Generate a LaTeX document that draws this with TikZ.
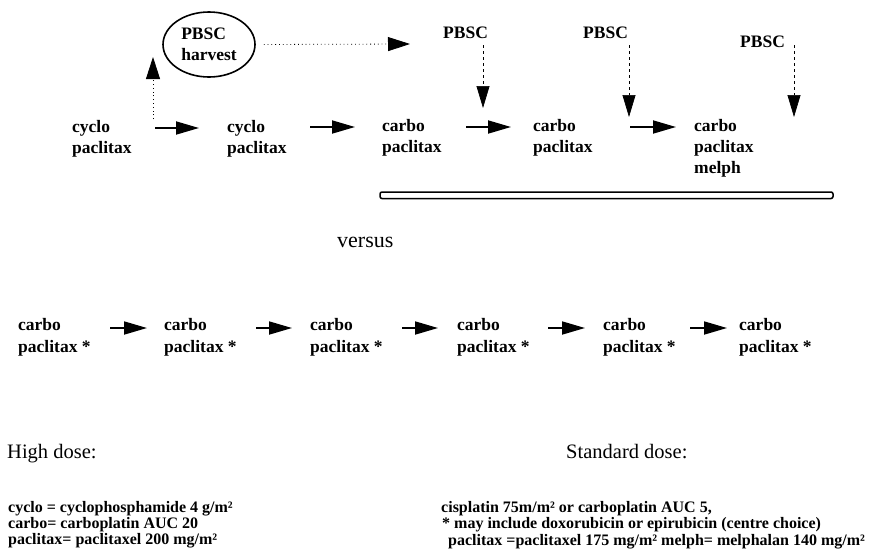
\documentclass[tikz,border=0pt]{standalone}
\usepackage{fontspec}
\setmainfont{Liberation Serif}
\usetikzlibrary{arrows.meta,shapes.geometric}
\begin{document}
\begin{tikzpicture}[x=1pt,y=-1pt,
  lbl/.style={font=\bfseries\fontsize{17.5}{21}\selectfont, align=left, inner sep=0pt, anchor=base west},
  lblb/.style={font=\bfseries\fontsize{17.5}{22}\selectfont, align=left, inner sep=0pt, anchor=base west},
  pbsc/.style={font=\bfseries\fontsize{17.5}{21}\selectfont, inner sep=0pt, anchor=base west},
  head/.style={font=\fontsize{20.5}{24}\selectfont, inner sep=0pt, anchor=base west},
  defn/.style={font=\bfseries\fontsize{16}{16}\selectfont, inner sep=0pt, anchor=base west},
  arr/.style={line width=1.8pt, -{Triangle[length=23pt,width=13pt]}},
  darr/.style={line width=0.7pt, dash pattern=on 3pt off 3pt, -{Triangle[length=22pt,width=13pt]}},
  oarr/.style={line width=0.8pt, dash pattern=on 0.8pt off 3pt, -{Triangle[length=22pt,width=14pt]}}]
\useasboundingbox (0,0) rectangle (877,552);

% top row nodes (anchor = baseline of last line)
\node[lbl] (c1) at (72,153) {cyclo\\paclitax};
\node[lbl] (c2) at (227,153) {cyclo\\paclitax};
\node[lbl] (c3) at (382,152) {carbo\\paclitax};
\node[lbl] (c4) at (533,152) {carbo\\paclitax};
\node[lbl] (c5) at (694,173) {carbo\\paclitax\\melph};

% harvest
\node[ellipse, draw, line width=1.6pt, minimum width=92pt, minimum height=65pt,
      inner sep=0pt, align=left, font=\bfseries\fontsize{17.5}{21}\selectfont]
      (harv) at (209,44.5) {PBSC\\harvest};

% PBSC labels
\node[pbsc] (p1) at (443,38) {PBSC};
\node[pbsc] (p2) at (583,38) {PBSC};
\node[pbsc] (p3) at (740,47) {PBSC};

% top row arrows
\coordinate (a1s) at (155,128); \coordinate (a1e) at (199,128);
\coordinate (a2s) at (310,127); \coordinate (a2e) at (355,127);
\coordinate (a3s) at (466,127); \coordinate (a3e) at (511,127);
\coordinate (a4s) at (630,127); \coordinate (a4e) at (676,127);
\draw[arr] (a1s) -- (a1e);
\draw[arr] (a2s) -- (a2e);
\draw[arr] (a3s) -- (a3e);
\draw[arr] (a4s) -- (a4e);

% harvest arrows
\coordinate (hvs) at (153,119); \coordinate (hve) at (153,57);
\draw[oarr] (hvs) -- (hve);
\coordinate (hhe) at (410,44);
\draw[oarr] ([xshift=8pt]harv.east) -- (hhe);

% dashed PBSC arrows
\coordinate (d1s) at (483,45); \coordinate (d1e) at (483,108);
\coordinate (d2s) at (629,45); \coordinate (d2e) at (629,117);
\coordinate (d3s) at (794,45); \coordinate (d3e) at (794,117);
\draw[darr] (d1s) -- (d1e);
\draw[darr] (d2s) -- (d2e);
\draw[darr] (d3s) -- (d3e);

% double bar
\draw[line width=1.5pt, rounded corners=2pt] (380,192) rectangle (833,198.5);

% versus
\node[head, font=\fontsize{22}{26}\selectfont] (vs) at (337,247) {versus};

% bottom row
\node[lblb] (b1) at (18,352) {carbo\\paclitax *};
\node[lblb] (b2) at (164,352) {carbo\\paclitax *};
\node[lblb] (b3) at (310,352) {carbo\\paclitax *};
\node[lblb] (b4) at (457,352) {carbo\\paclitax *};
\node[lblb] (b5) at (603,352) {carbo\\paclitax *};
\node[lblb] (b6) at (739,352) {carbo\\paclitax *};
\coordinate (e1s) at (110,328); \coordinate (e1e) at (147,328);
\coordinate (e2s) at (256,328); \coordinate (e2e) at (292,328);
\coordinate (e3s) at (402,328); \coordinate (e3e) at (438,328);
\coordinate (e4s) at (548,328); \coordinate (e4e) at (585,328);
\coordinate (e5s) at (690,328); \coordinate (e5e) at (727,328);
\draw[arr] (e1s) -- (e1e);
\draw[arr] (e2s) -- (e2e);
\draw[arr] (e3s) -- (e3e);
\draw[arr] (e4s) -- (e4e);
\draw[arr] (e5s) -- (e5e);

% legend
\node[head] (hd) at (7,458) {High dose:};
\node[head] (sd) at (566,458) {Standard dose:};
\node[defn] (l1) at (8,512) {cyclo = cyclophosphamide 4 g/m²};
\node[defn] (l2) at (8,528) {carbo= carboplatin AUC 20};
\node[defn] (l3) at (8,544) {paclitax= paclitaxel 200 mg/m²};
\node[defn] (r1) at (441,512) {cisplatin 75m/m² or carboplatin AUC 5,};
\node[defn] (r2) at (442,528) {* may include doxorubicin or epirubicin (centre choice)};
\begin{scope}
\clip (0,0) rectangle (877,552);
\node[defn] (r3) at (448,545) {paclitax =paclitaxel 175 mg/m² melph= melphalan 140 mg/m²};
\end{scope}
\end{tikzpicture}
\end{document}
